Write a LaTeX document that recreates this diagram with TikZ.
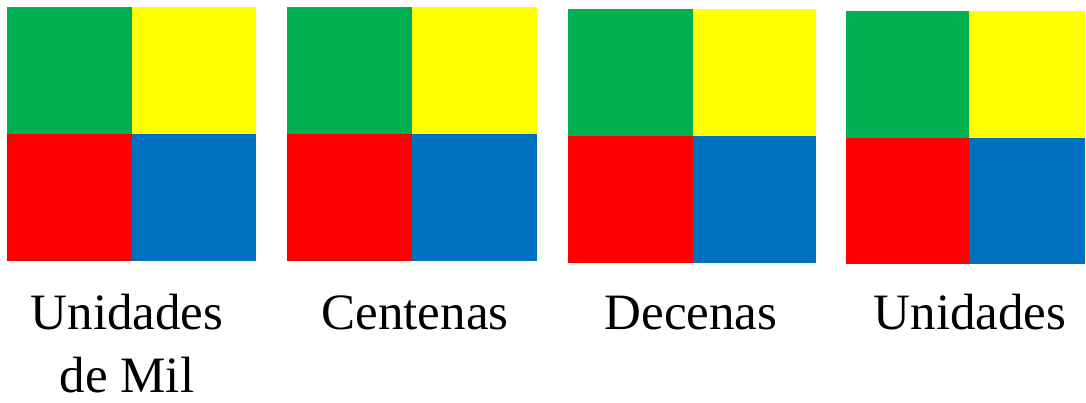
\documentclass[tikz,border=0pt]{standalone}
\usepackage{fontspec}
\setmainfont{Liberation Serif}
\definecolor{qgreen}{HTML}{00B050}
\definecolor{qyellow}{HTML}{FFFF00}
\definecolor{qred}{HTML}{FF0000}
\definecolor{qblue}{HTML}{0070C0}
\tikzset{
  lbl/.style={font=\fontsize{51}{63}\selectfont, inner sep=0pt, anchor=base, align=center},
}
\begin{document}
\begin{tikzpicture}[x=1pt,y=-1pt]
\useasboundingbox (0,0) rectangle (1086,402);
% group 1
\fill[qgreen]  (7,7)   rectangle (132,134);
\fill[qyellow] (132,7) rectangle (256,134);
\fill[qred]    (7,134) rectangle (132,261);
\fill[qblue]   (132,134) rectangle (256,261);
% group 2
\fill[qgreen]  (287,7)   rectangle (412,134);
\fill[qyellow] (412,7)   rectangle (537,134);
\fill[qred]    (287,134) rectangle (412,261);
\fill[qblue]   (412,134) rectangle (537,261);
% group 3
\fill[qgreen]  (568,9)   rectangle (693,136);
\fill[qyellow] (693,9)   rectangle (816,136);
\fill[qred]    (568,136) rectangle (693,263);
\fill[qblue]   (693,136) rectangle (816,263);
% group 4
\fill[qgreen]  (846,11)  rectangle (969,138);
\fill[qyellow] (969,11)  rectangle (1085,138);
\fill[qred]    (846,138) rectangle (969,264);
\fill[qblue]   (969,138) rectangle (1085,264);
% labels
\node[lbl] (l1) at (127,392) {Unidades\\de Mil};
\node[lbl] (l2) at (415,329) {Centenas};
\node[lbl] (l3) at (691,329) {Decenas};
\node[lbl] (l4) at (970,329) {Unidades};
\end{tikzpicture}
\end{document}
